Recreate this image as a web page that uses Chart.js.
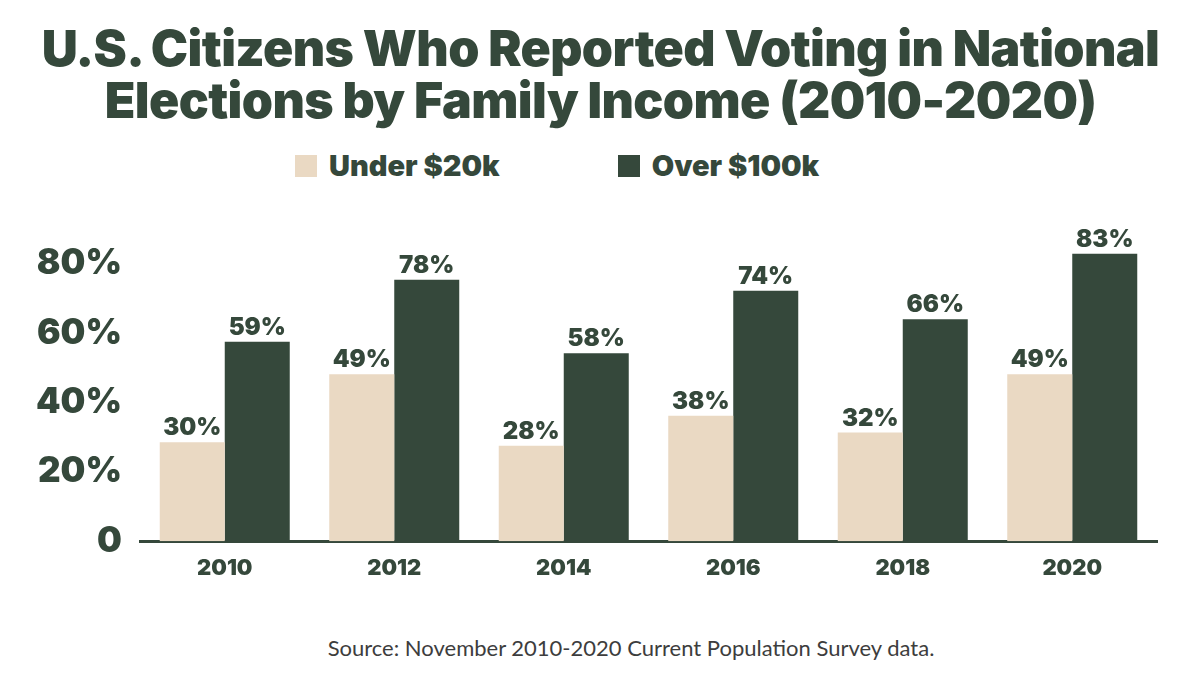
<!DOCTYPE html>
<html lang="en">
<head>
<meta charset="UTF-8">
<title>Voting by Family Income</title>
<script src="https://cdn.jsdelivr.net/npm/chart.js@4.4.1/dist/chart.umd.min.js"></script>
<style>
    body {
        margin: 0;
        background: #fff;
        font-family: Inter, sans-serif;
        color: #35483b;
    }
    .page {
        position: relative;
        width: 1201px;
        height: 675px;
        overflow: hidden;
    }
    h1 {
        position: absolute;
        top: 22px;
        left: 0;
        width: 1201px;
        margin: 0;
        text-align: center;
        font-size: 50px;
        line-height: 52px;
        font-weight: 900;
        letter-spacing: -0.6px;
    }
    .legend {
        position: absolute;
        top: 149px;
        left: 295px;
        display: flex;
        align-items: center;
        font-size: 29px;
        font-weight: 900;
        line-height: 33px;
    }
    .legend .item {
        display: flex;
        align-items: center;
        margin-right: 118px;
    }
    .legend .box {
        width: 22px;
        height: 22px;
        margin-right: 12px;
    }
    .chart-box {
        position: absolute;
        top: 190px;
        left: 0;
        width: 1201px;
        height: 414px;
    }
    .source {
        position: absolute;
        top: 634px;
        left: 0;
        width: 1262px;
        margin: 0;
        text-align: center;
        font-family: Lato, sans-serif;
        font-size: 22px;
        color: #3d3d3d;
    }
</style>
</head>
<body>
<div class="page">
    <h1>U.S. Citizens Who Reported Voting in National<br>Elections by Family Income (2010-2020)</h1>
    <div class="legend" id="legend"></div>
    <div class="chart-box"><canvas id="chart"></canvas></div>
    <p class="source">Source: November 2010-2020 Current Population Survey data.</p>
</div>

<script>
    const years = ['2010', '2012', '2014', '2016', '2018', '2020'];
    const seriesNames = ['Under $20k', 'Over $100k'];
    // bar heights as drawn in the picture (percent)
    const under20k = [28.5, 48.1, 27.5, 36.2, 31.3, 48.1];
    const over100k = [57.5, 75.4, 54.2, 72.2, 64.0, 82.9];
    // value labels printed above the bars
    const under20kLabels = ['30%', '49%', '28%', '38%', '32%', '49%'];
    const over100kLabels = ['59%', '78%', '58%', '74%', '66%', '83%'];
    const yTicks = [0, 20, 40, 60, 80];
    const yTickLabels = ['0', '20%', '40%', '60%', '80%'];

    const dark = '#35483b';
    const beige = '#ead9c3';
    const colors = [beige, dark];

    // legend
    const legend = document.getElementById('legend');
    seriesNames.forEach((name, i) => {
        const item = document.createElement('div');
        item.className = 'item';
        item.innerHTML = `<span class="box" style="background:${colors[i]}"></span><span>${name}</span>`;
        legend.appendChild(item);
    });

    // labels above bars
    const barLabels = {
        id: 'barLabels',
        afterDatasetsDraw(chart) {
            const ctx = chart.ctx;
            ctx.save();
            ctx.font = '900 24px Inter';
            ctx.fillStyle = dark;
            ctx.textAlign = 'center';
            ctx.textBaseline = 'alphabetic';
            chart.data.datasets.forEach((ds, i) => {
                chart.getDatasetMeta(i).data.forEach((bar, j) => {
                    ctx.fillText(ds.valueLabels[j], bar.x, bar.y - 7);
                });
            });
            ctx.restore();
        }
    };

    new Chart(document.getElementById('chart'), {
        type: 'bar',
        data: {
            labels: years,
            datasets: [
                {
                    label: seriesNames[0],
                    data: under20k,
                    valueLabels: under20kLabels,
                    backgroundColor: beige,
                    categoryPercentage: 0.767,
                    barPercentage: 1
                },
                {
                    label: seriesNames[1],
                    data: over100k,
                    valueLabels: over100kLabels,
                    backgroundColor: dark,
                    categoryPercentage: 0.767,
                    barPercentage: 1
                }
            ]
        },
        options: {
            responsive: true,
            maintainAspectRatio: false,
            animation: false,
            layout: {
                padding: { top: 29.5, bottom: 8.4, left: 0, right: 44 }
            },
            plugins: {
                legend: { display: false },
                tooltip: { enabled: false }
            },
            scales: {
                x: {
                    grid: { display: false, drawTicks: false },
                    border: { display: true, color: dark, width: 3 },
                    ticks: {
                        padding: 14,
                        color: dark,
                        font: { family: 'Inter', size: 22, weight: '900' }
                    }
                },
                y: {
                    min: 0,
                    max: 90,
                    afterFit: function(scale) {
                        scale.width = 140;
                    },
                    afterBuildTicks: function(scale) {
                        scale.ticks = yTicks.map(v => ({ value: v }));
                    },
                    grid: { display: false, drawTicks: false },
                    border: { display: false },
                    ticks: {
                        padding: 18,
                        color: dark,
                        font: { family: 'Inter', size: 35, weight: '900' },
                        callback: function(value) {
                            const i = yTicks.indexOf(value);
                            return i >= 0 ? yTickLabels[i] : '';
                        }
                    }
                }
            }
        },
        plugins: [barLabels]
    });
</script>
</body>
</html>
